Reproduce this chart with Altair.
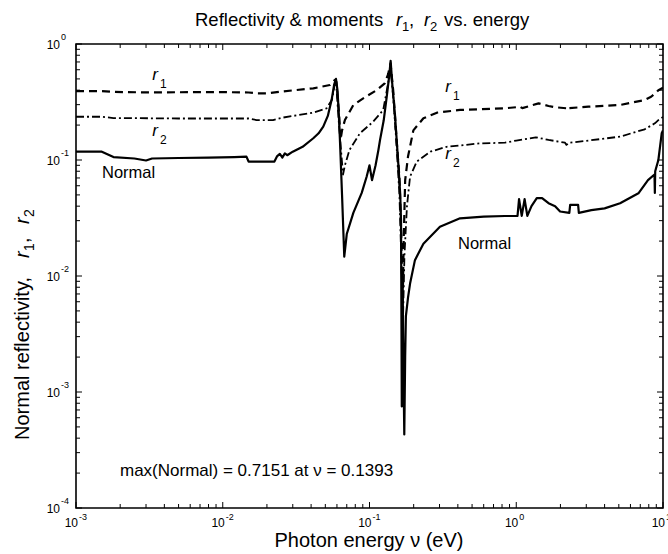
import altair as alt
import pandas as pd

# ---- data ----
v_normal = [0.001, 0.0015, 0.0018, 0.0025, 0.003, 0.0033, 0.005, 0.008, 0.012, 0.0145, 0.0150, 0.0225,
            0.0235, 0.0245, 0.0255, 0.0265, 0.0275, 0.030, 0.035, 0.0414, 0.045, 0.0484, 0.052, 0.0552,
            0.0575, 0.0591, 0.0605, 0.0618, 0.063, 0.065, 0.0673, 0.070, 0.0776, 0.0885, 0.0957, 0.100,
            0.104, 0.110, 0.115, 0.118, 0.125, 0.131, 0.136, 0.1393, 0.143, 0.149, 0.157, 0.162, 0.164,
            0.166, 0.168, 0.170, 0.1726, 0.175, 0.177, 0.183, 0.189, 0.204, 0.233, 0.302, 0.414, 0.60,
            0.838, 0.98, 1.02, 1.045, 1.09, 1.14, 1.19, 1.27, 1.38, 1.50, 1.66, 1.84, 1.99, 2.30, 2.33,
            2.64, 2.67, 3.25, 4.0, 5.1, 6.8, 7.9, 8.75, 8.8, 8.85, 9.3, 9.8, 10.0]
r_normal = [0.118, 0.118, 0.106, 0.103, 0.099, 0.103, 0.104, 0.105, 0.106, 0.107, 0.097, 0.097,
            0.108, 0.113, 0.105, 0.114, 0.110, 0.118, 0.13, 0.154, 0.17, 0.194, 0.24, 0.33,
            0.45, 0.50, 0.40, 0.25, 0.14, 0.05, 0.0147, 0.023, 0.035, 0.052, 0.072, 0.09,
            0.067, 0.09, 0.122, 0.149, 0.22, 0.35, 0.52, 0.7151, 0.45, 0.25, 0.094, 0.05, 0.03,
            0.00075, 0.01, 0.002, 0.00043, 0.002, 0.0045, 0.0065, 0.0086, 0.0137, 0.019, 0.0266, 0.0314, 0.0325,
            0.0329, 0.0329, 0.033, 0.046, 0.033, 0.046, 0.033, 0.040, 0.047, 0.047, 0.0424, 0.040, 0.036, 0.035, 0.041,
            0.041, 0.035, 0.037, 0.0383, 0.0424, 0.0516, 0.067, 0.075, 0.052, 0.080, 0.10, 0.17, 0.18]

v_r1 = [0.001, 0.0015, 0.0018, 0.003, 0.01, 0.015, 0.017, 0.020, 0.0257, 0.0414, 0.0537, 0.058, 0.0595,
        0.062, 0.0635, 0.065, 0.068, 0.0776, 0.0906, 0.112, 0.127, 0.134, 0.139, 0.145, 0.153, 0.160,
        0.165, 0.168, 0.171, 0.175, 0.183, 0.199, 0.233, 0.288, 0.414, 0.838, 1.0, 1.05, 1.1, 1.42,
        1.66, 1.84, 2.2, 2.25, 2.3, 3.1, 5.1, 7.5, 8.3, 9.1, 9.3, 10.0]
r_r1 = [0.393, 0.393, 0.386, 0.383, 0.385, 0.382, 0.376, 0.376, 0.39, 0.415, 0.443, 0.49, 0.47,
        0.25, 0.15, 0.18, 0.221, 0.298, 0.34, 0.40, 0.458, 0.55, 0.68, 0.40, 0.149, 0.07,
        0.02, 0.005, 0.02, 0.067, 0.107, 0.18, 0.229, 0.256, 0.27, 0.279, 0.285, 0.29, 0.28, 0.308,
        0.292, 0.285, 0.279, 0.27, 0.28, 0.288, 0.298, 0.329, 0.351, 0.388, 0.40, 0.42]

v_r2 = [0.001, 0.0015, 0.0018, 0.005, 0.015, 0.017, 0.022, 0.0257, 0.0414, 0.051, 0.0555, 0.058, 0.0595,
        0.062, 0.064, 0.066, 0.068, 0.073, 0.086, 0.106, 0.124, 0.134, 0.139, 0.145, 0.152, 0.160,
        0.166, 0.169, 0.173, 0.180, 0.189, 0.21, 0.26, 0.335, 0.565, 0.838, 1.0, 1.36, 1.66, 2.15,
        2.2, 2.3, 3.1, 5.1, 7.5, 8.8, 9.3, 10.0]
r_r2 = [0.236, 0.236, 0.23, 0.228, 0.228, 0.221, 0.221, 0.232, 0.256, 0.279, 0.33, 0.45, 0.42,
        0.2, 0.12, 0.075, 0.09, 0.122, 0.17, 0.214, 0.27, 0.46, 0.62, 0.35, 0.15, 0.05,
        0.01, 0.004, 0.015, 0.04, 0.072, 0.097, 0.118, 0.13, 0.139, 0.141, 0.147, 0.157, 0.149, 0.141,
        0.135, 0.141, 0.147, 0.159, 0.184, 0.207, 0.221, 0.235]

x_major = [0.001, 0.01, 0.1, 1.0, 10.0]
x_exp = ["-3", "-2", "-1", "0", "1"]
y_major = [1e-4, 1e-3, 1e-2, 1e-1, 1.0]
y_exp = ["-4", "-3", "-2", "-1", "0"]
mult = [2, 3, 4, 5, 6, 7, 8, 9]
x_minor = [m * d for d in x_major[:-1] for m in mult]
y_minor = [m * d for d in y_major[:-1] for m in mult]

W, H = 587, 464
FONT = "Liberation Sans"

xs = alt.Scale(type="log", domain=[1e-3, 10], nice=False)
ys = alt.Scale(type="log", domain=[1e-4, 1], nice=False)


def series(v, r, dash, width):
    df = pd.DataFrame({"v": v, "r": r})
    kw = dict(color="black", strokeWidth=width, clip=True, strokeJoin="round")
    if dash:
        kw["strokeDash"] = dash
    return alt.Chart(df).mark_line(**kw).encode(
        x=alt.X("v:Q", scale=xs, axis=None),
        y=alt.Y("r:Q", scale=ys, axis=None),
        order=alt.Order("v:Q"),
    )


layers = []
layers.append(series(v_normal, r_normal, None, 2.2))
layers.append(series(v_r1, r_r1, [8, 5], 2.2))
layers.append(series(v_r2, r_r2, [8, 3, 2, 3], 1.8))


def xticks(vals, ln):
    df = pd.DataFrame({"t": vals})
    b = alt.Chart(df).mark_rule(color="black", strokeWidth=1).encode(
        x=alt.X("t:Q", scale=xs, axis=None), y=alt.value(H), y2=alt.value(H - ln))
    t = alt.Chart(df).mark_rule(color="black", strokeWidth=1).encode(
        x=alt.X("t:Q", scale=xs, axis=None), y=alt.value(0), y2=alt.value(ln))
    return [b, t]


def yticks(vals, ln):
    df = pd.DataFrame({"t": vals})
    l = alt.Chart(df).mark_rule(color="black", strokeWidth=1).encode(
        y=alt.Y("t:Q", scale=ys, axis=None), x=alt.value(0), x2=alt.value(ln))
    r = alt.Chart(df).mark_rule(color="black", strokeWidth=1).encode(
        y=alt.Y("t:Q", scale=ys, axis=None), x=alt.value(W), x2=alt.value(W - ln))
    return [l, r]


layers += xticks(x_minor, 4) + xticks(x_major, 6) + yticks(y_minor, 4) + yticks(y_major, 6)

# tick labels 10^n
xl = pd.DataFrame({"t": x_major, "e": x_exp, "b": ["10"] * len(x_major)})
layers.append(alt.Chart(xl).mark_text(align="right", baseline="alphabetic", dx=2, fontSize=12, font=FONT).encode(
    x=alt.X("t:Q", scale=xs, axis=None), y=alt.value(H + 19), text="b:N"))
layers.append(alt.Chart(xl).mark_text(align="left", baseline="alphabetic", dx=3, fontSize=9, font=FONT).encode(
    x=alt.X("t:Q", scale=xs, axis=None), y=alt.value(H + 12), text="e:N"))
yl = pd.DataFrame({"t": y_major, "e": y_exp, "b": ["10"] * len(y_major)})
layers.append(alt.Chart(yl).mark_text(align="right", baseline="alphabetic", dy=5, fontSize=12, font=FONT).encode(
    y=alt.Y("t:Q", scale=ys, axis=None), x=alt.value(-16), text="b:N"))
layers.append(alt.Chart(yl).mark_text(align="left", baseline="alphabetic", dy=-4, fontSize=9, font=FONT).encode(
    y=alt.Y("t:Q", scale=ys, axis=None), x=alt.value(-15), text="e:N"))


def txt(s, x, y, size, style="normal", align="left", angle=0):
    kw = dict(align=align, baseline="alphabetic", fontSize=size, font=FONT, fontStyle=style, color="black")
    if angle:
        kw["angle"] = angle
    return alt.Chart(pd.DataFrame({"s": [s]})).mark_text(**kw).encode(
        x=alt.value(x), y=alt.value(y), text="s:N")


# title
layers += [
    txt("Reflectivity & moments", 119, -18, 18.5),
    txt("r", 320, -18, 18.5, "italic"),
    txt("1", 326, -13, 13),
    txt(",", 333, -18, 18.5),
    txt("r", 348, -18, 18.5, "italic"),
    txt("2", 354, -13, 13),
    txt("vs. energy", 368, -18, 18.5),
]
# x axis title
layers.append(txt("Photon energy \u03bd (eV)", 293, 503, 20, align="center"))
# y axis title (rotated)
layers += [
    txt("Normal reflectivity,", -47, 396, 20, angle=270),
    txt("r", -47, 214, 20, "italic", angle=270),
    txt("1", -42, 207, 14, angle=270),
    txt(",", -47, 199, 20, angle=270),
    txt("r", -47, 180, 20, "italic", angle=270),
    txt("2", -42, 173, 14, angle=270),
]
# in-plot annotations
layers += [
    txt("r", 79, 36, 17, "italic", align="center"),
    txt("1", 84, 44, 12),
    txt("r", 79, 92, 17, "italic", align="center"),
    txt("2", 84, 100, 12),
    txt("Normal", 26, 134, 16.5),
    txt("r", 372, 48, 17, "italic", align="center"),
    txt("1", 377, 56, 12),
    txt("r", 372, 115, 17, "italic", align="center"),
    txt("2", 377, 123, 12),
    txt("Normal", 382, 205, 16.5),
    txt("max(Normal) = 0.7151 at \u03bd = 0.1393", 44, 432, 17),
]

chart = alt.layer(*layers).properties(
    width=W, height=H,
    padding={"left": 76, "top": 44, "right": 5, "bottom": 46},
    autosize=alt.AutoSizeParams(type="none"),
    background="white",
).configure_view(stroke="black", strokeWidth=1.6)

chart.save("out.html", embed_options={"renderer": "svg", "actions": False})
